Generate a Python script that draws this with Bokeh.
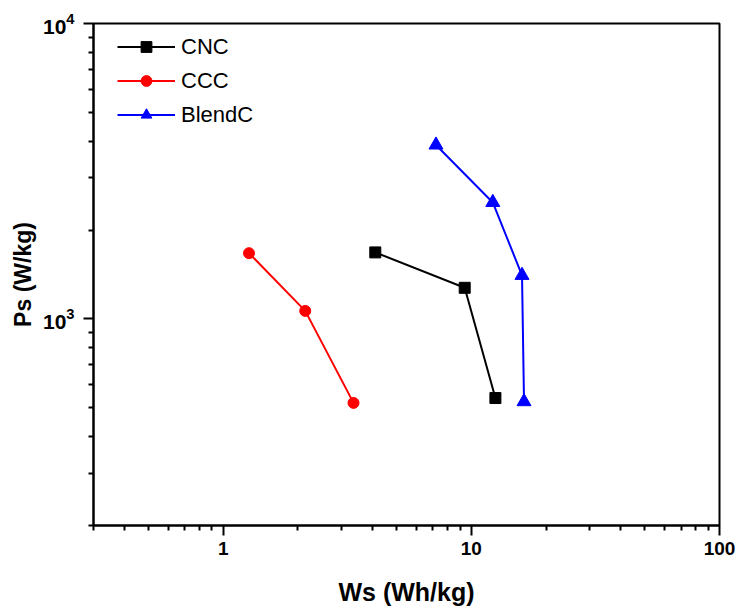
from bokeh.plotting import figure
from bokeh.models import Range1d, FixedTicker, LogTickFormatter, Legend, LegendItem
from bokeh.embed import file_html
from bokeh.resources import INLINE

cnc_x = [4.1, 9.4, 12.5]
cnc_y = [1680, 1275, 540]
ccc_x = [1.27, 2.14, 3.35]
ccc_y = [1670, 1065, 520]
blend_x = [7.2, 12.2, 16.0, 16.3]
blend_y = [3880, 2480, 1405, 525]

x_major = [1, 10, 100]
x_minor = [0.3, 0.4, 0.5, 0.6, 0.7, 0.8, 0.9, 2, 3, 4, 5, 6, 7, 8, 9,
           20, 30, 40, 50, 60, 70, 80, 90]
y_major = [1000, 10000]
y_minor = [200, 300, 400, 500, 600, 700, 800, 900,
           2000, 3000, 4000, 5000, 6000, 7000, 8000, 9000]

FONT = "Liberation Sans"

p = figure(width=739, height=608, x_axis_type="log", y_axis_type="log",
           x_range=Range1d(0.3, 100), y_range=Range1d(200, 10000),
           output_backend="svg", toolbar_location=None,
           min_border_left=93, min_border_top=23, min_border_right=20,
           min_border_bottom=80)
p.xgrid.visible = False
p.ygrid.visible = False
p.outline_line_color = "black"
p.outline_line_width = 2
p.outline_line_alpha = 1

p.xaxis.ticker = FixedTicker(ticks=x_major, minor_ticks=x_minor)
p.yaxis.ticker = FixedTicker(ticks=y_major, minor_ticks=y_minor)
p.xaxis.formatter = LogTickFormatter(min_exponent=3)
p.yaxis.formatter = LogTickFormatter()

for ax in (p.xaxis[0], p.yaxis[0]):
    ax.axis_line_width = 2
    ax.axis_line_color = "black"
    ax.major_tick_line_width = 2
    ax.minor_tick_line_width = 2
    ax.major_tick_out = 10
    ax.major_tick_in = 0
    ax.minor_tick_out = 5
    ax.minor_tick_in = 0
    ax.major_label_text_font = FONT
    ax.major_label_text_font_style = "bold"
    ax.major_label_text_font_size = "19px"
    ax.major_label_text_color = "black"
    ax.axis_label_text_font = FONT
    ax.axis_label_text_font_style = "bold"
    ax.axis_label_text_color = "black"

p.xaxis.axis_label = "Ws (Wh/kg)"
p.yaxis.axis_label = "Ps (W/kg)"
p.xaxis.axis_label_text_font_size = "25px"
p.yaxis.axis_label_text_font_size = "23px"
p.yaxis.major_label_text_font_size = "21px"
p.xaxis.major_label_standoff = 6
p.xaxis.axis_label_standoff = 20
p.yaxis.major_label_standoff = 9
p.yaxis.axis_label_standoff = 4

l1 = p.line(cnc_x, cnc_y, line_color="black", line_width=2)
m1 = p.scatter(cnc_x, cnc_y, marker="square", size=11, fill_color="black", line_color="black")
l2 = p.line(ccc_x, ccc_y, line_color="red", line_width=2)
m2 = p.scatter(ccc_x, ccc_y, marker="circle", size=11, fill_color="red", line_color="red")
l3 = p.line(blend_x, blend_y, line_color="blue", line_width=2)
m3 = p.scatter(blend_x, blend_y, marker="triangle", size=14, fill_color="blue", line_color="blue")

legend = Legend(items=[
    LegendItem(label="CNC", renderers=[l1, m1]),
    LegendItem(label="CCC", renderers=[l2, m2]),
    LegendItem(label="BlendC", renderers=[l3, m3]),
], location="top_left")
legend.border_line_color = None
legend.background_fill_alpha = 0
legend.label_text_font = FONT
legend.label_text_font_size = "22px"
legend.label_text_color = "black"
legend.glyph_width = 58
legend.glyph_height = 27
legend.spacing = 7
legend.label_standoff = 6
legend.margin = 12
legend.padding = 0
legend.location = (24, 505 - 13 - 95)
p.add_layout(legend)

open("out.html", "w").write(file_html(p, INLINE))
